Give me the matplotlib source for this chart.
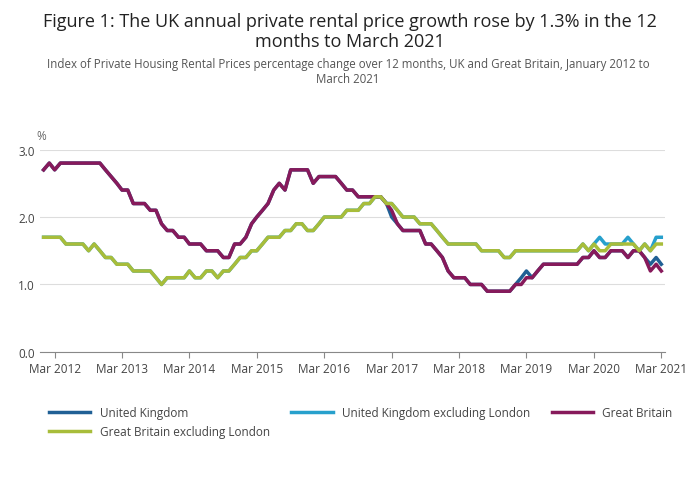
import numpy as np
import pandas as pd
import matplotlib.pyplot as plt

plt.rcParams["font.family"] = ["Open Sans", "DejaVu Sans"]

months = pd.date_range("2012-01-01", "2021-03-01", freq="MS")

gb = [2.7, 2.8, 2.7, 2.8, 2.8, 2.8, 2.8, 2.8, 2.8, 2.8, 2.8, 2.7,
      2.6, 2.5, 2.4, 2.4, 2.2, 2.2, 2.2, 2.1, 2.1, 1.9, 1.8, 1.8,
      1.7, 1.7, 1.6, 1.6, 1.6, 1.5, 1.5, 1.5, 1.4, 1.4, 1.6, 1.6,
      1.7, 1.9, 2.0, 2.1, 2.2, 2.4, 2.5, 2.4, 2.7, 2.7, 2.7, 2.7,
      2.5, 2.6, 2.6, 2.6, 2.6, 2.5, 2.4, 2.4, 2.3, 2.3, 2.3, 2.3,
      2.3, 2.2, 2.1, 1.9, 1.8, 1.8, 1.8, 1.8, 1.6, 1.6, 1.5, 1.4,
      1.2, 1.1, 1.1, 1.1, 1.0, 1.0, 1.0, 0.9, 0.9, 0.9, 0.9, 0.9,
      1.0, 1.0, 1.1, 1.1, 1.2, 1.3, 1.3, 1.3, 1.3, 1.3, 1.3, 1.3,
      1.4, 1.4, 1.5, 1.4, 1.4, 1.5, 1.5, 1.5, 1.4, 1.5, 1.5, 1.4,
      1.2, 1.3, 1.2]
uk = list(gb)
uk[62], uk[63] = 2.0, 1.9
uk[85], uk[86] = 1.1, 1.2
uk[108], uk[109], uk[110] = 1.3, 1.4, 1.3

gb_exl = [1.7, 1.7, 1.7, 1.7, 1.6, 1.6, 1.6, 1.6, 1.5, 1.6, 1.5, 1.4,
          1.4, 1.3, 1.3, 1.3, 1.2, 1.2, 1.2, 1.2, 1.1, 1.0, 1.1, 1.1,
          1.1, 1.1, 1.2, 1.1, 1.1, 1.2, 1.2, 1.1, 1.2, 1.2, 1.3, 1.4,
          1.4, 1.5, 1.5, 1.6, 1.7, 1.7, 1.7, 1.8, 1.8, 1.9, 1.9, 1.8,
          1.8, 1.9, 2.0, 2.0, 2.0, 2.0, 2.1, 2.1, 2.1, 2.2, 2.2, 2.3,
          2.3, 2.2, 2.2, 2.1, 2.0, 2.0, 2.0, 1.9, 1.9, 1.9, 1.8, 1.7,
          1.6, 1.6, 1.6, 1.6, 1.6, 1.6, 1.5, 1.5, 1.5, 1.5, 1.4, 1.4,
          1.5, 1.5, 1.5, 1.5, 1.5, 1.5, 1.5, 1.5, 1.5, 1.5, 1.5, 1.5,
          1.6, 1.5, 1.6, 1.5, 1.5, 1.6, 1.6, 1.6, 1.6, 1.6, 1.5, 1.6,
          1.5, 1.6, 1.6]
uk_exl = list(gb_exl)
uk_exl[80], uk_exl[81] = 1.5, 1.5
uk_exl[98], uk_exl[99], uk_exl[100] = 1.6, 1.7, 1.6
uk_exl[104], uk_exl[105] = 1.7, 1.6
uk_exl[109], uk_exl[110] = 1.7, 1.7

series = [
    ("United Kingdom", uk, "#206095"),
    ("United Kingdom excluding London", uk_exl, "#27a0cc"),
    ("Great Britain", gb, "#871a5b"),
    ("Great Britain excluding London", gb_exl, "#a8bd3a"),
]

fig = plt.figure(figsize=(7.0, 5.02), dpi=100)
ax = fig.add_axes([0.057, 0.297, 0.893, 0.403])

lines = {}
for name, vals, col in series:
    lines[name], = ax.plot(months, vals, color=col, lw=2.5, label=name)

ticks = pd.date_range("2012-03-01", "2021-03-01", freq="12MS")
ax.set_xticks(ticks)
ax.set_xticklabels([d.strftime("Mar %Y") for d in ticks], fontsize=8.5, color="#444444")
ax.set_xlim(months[0] - pd.Timedelta(days=20), months[-1] + pd.Timedelta(days=20))
ax.set_ylim(0, 3.0)
ax.set_yticks([0, 1, 2, 3])
ax.set_yticklabels(["0.0", "1.0", "2.0", "3.0"], fontsize=8.5, color="#444444")
ax.tick_params(axis="y", length=0)
ax.tick_params(axis="x", length=4, color="#888888")
ax.grid(axis="y", color="#dddddd", lw=0.8)
ax.set_axisbelow(True)
for s in ["top", "right", "left"]:
    ax.spines[s].set_visible(False)
ax.spines["bottom"].set_color("#888888")
ax.text(-0.005, 1.05, "%", transform=ax.transAxes, fontsize=8.5, color="#666666")

fig.text(0.5, 0.975, "Figure 1: The UK annual private rental price growth rose by 1.3% in the 12\nmonths to March 2021",
         ha="center", va="top", fontsize=13, color="#222222", linespacing=1.2)
fig.text(0.497, 0.885, "Index of Private Housing Rental Prices percentage change over 12 months, UK and Great Britain, January 2012 to\nMarch 2021",
         ha="center", va="top", fontsize=8.3, color="#555555")

order = ["United Kingdom", "Great Britain excluding London",
         "United Kingdom excluding London", "Great Britain"]
fig.legend([lines[k] for k in order], order, loc="upper left", bbox_to_anchor=(0.055, 0.21),
           ncol=3, frameon=False, fontsize=8.5, handlelength=3.5,
           columnspacing=1.8, labelcolor="#444444")

fig.savefig("out.png", dpi=100)
